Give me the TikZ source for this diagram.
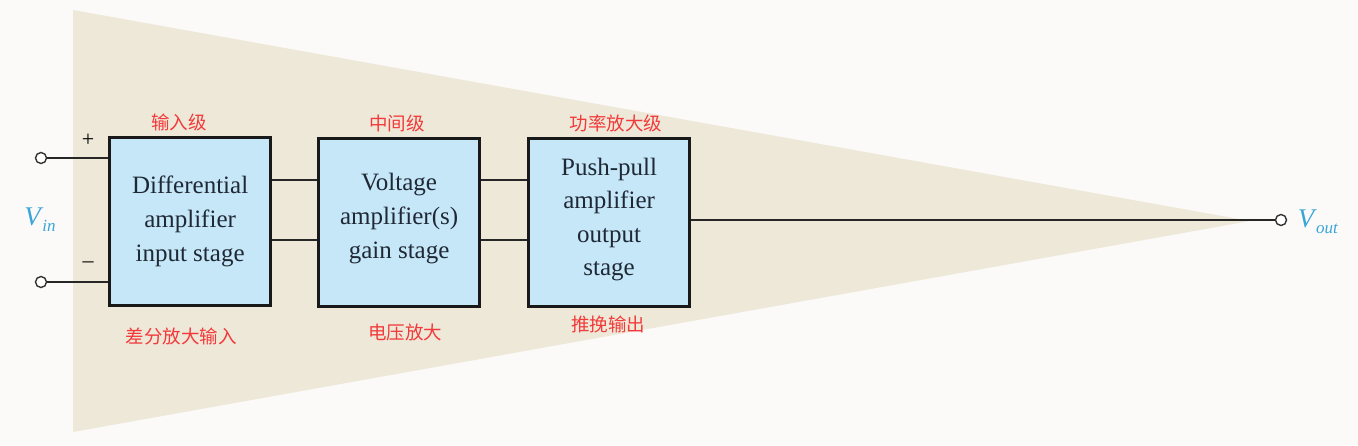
\documentclass[tikz,border=0pt]{standalone}
\usepackage{fontspec}
\usetikzlibrary{calc}
\setmainfont{Liberation Serif}
\newfontfamily\cjk{Noto Sans CJK SC}
\definecolor{bgc}{HTML}{FBFAF8}
\definecolor{beige}{HTML}{EEE8D8}
\definecolor{boxfill}{HTML}{C6E7F8}
\definecolor{boxtext}{HTML}{1F2835}
\definecolor{vblue}{HTML}{3AA6D8}
\definecolor{lab}{HTML}{F23A3A}
\begin{document}
\begin{tikzpicture}[x=1pt,y=-1pt,
  stagebox/.style={draw=black!90,line width=3.2pt,fill=boxfill,minimum width=161pt,minimum height=168pt,inner sep=0pt,anchor=north west},
  boxtxt/.style={text=boxtext,font=\fontsize{25}{34}\selectfont,align=center},
  wire/.style={draw=black!85,line width=1.4pt},
  term/.style={circle,draw=black!80,line width=1.4pt,fill=white,minimum size=11pt,inner sep=0pt},
  cn/.style={text=lab,font=\cjk\fontsize{18.5}{20}\selectfont,inner sep=0pt},
  sgn/.style={font=\fontsize{22}{22}\selectfont,inner sep=0pt}]
\useasboundingbox (0,0) rectangle (1358,445);
\fill[bgc] (0,0) rectangle (1358,445);
\fill[beige] (73,10) -- (1250,221) -- (73,432) -- cycle;

\node[stagebox] (b1) at (108,136) {};
\node[stagebox] (b2) at (317,137) {};
\node[stagebox] (b3) at (527,137) {};
\node[boxtxt] (t1) at (b1.center) {Differential\\amplifier\\input stage};
\node[boxtxt] (t2) at ($(b2.center)+(0,-4)$) {Voltage\\amplifier(s)\\gain stage};
\node[boxtxt,font=\fontsize{25}{33.5}\selectfont] (t3) at ($(b3.center)+(0,-3)$) {Push-pull\\amplifier\\output\\stage};

\node[term] (ip) at (41,158) {};
\node[term] (im) at (41,282) {};
\node[term] (out) at (1281,220) {};
\draw[wire] (ip) -- (ip -| b1.west);
\draw[wire] (im) -- (im -| b1.west);
\coordinate (ya) at (0,180);
\coordinate (yb) at (0,240);
\draw[wire] (ya -| b1.east) -- (ya -| b2.west);
\draw[wire] (yb -| b1.east) -- (yb -| b2.west);
\draw[wire] (ya -| b2.east) -- (ya -| b3.west);
\draw[wire] (yb -| b2.east) -- (yb -| b3.west);
\draw[wire] (out -| b3.east) -- (out);

\node[sgn] (plus) at (88,140) {+};
\node[sgn] (minus) at (88,265) {\textendash};
\node[text=vblue,font=\fontsize{27}{27}\selectfont,inner sep=0pt] (vin) at (40,220) {\textit{V}\kern-1pt\raisebox{-6pt}{\fontsize{17}{17}\selectfont\textit{in}}};
\node[text=vblue,font=\fontsize{27}{27}\selectfont,inner sep=0pt] (vout) at (1318,222) {\textit{V}\kern-1pt\raisebox{-6pt}{\fontsize{17}{17}\selectfont\textit{out}}};

\node[cn] (l1) at (179,122) {输入级};
\node[cn] (l2) at (397,123) {中间级};
\node[cn] (l3) at (616,123) {功率放大级};
\node[cn] (l4) at (181,336) {差分放大输入};
\node[cn] (l5) at (405,332) {电压放大};
\node[cn] (l6) at (608,324) {推挽输出};
\end{tikzpicture}
\end{document}
